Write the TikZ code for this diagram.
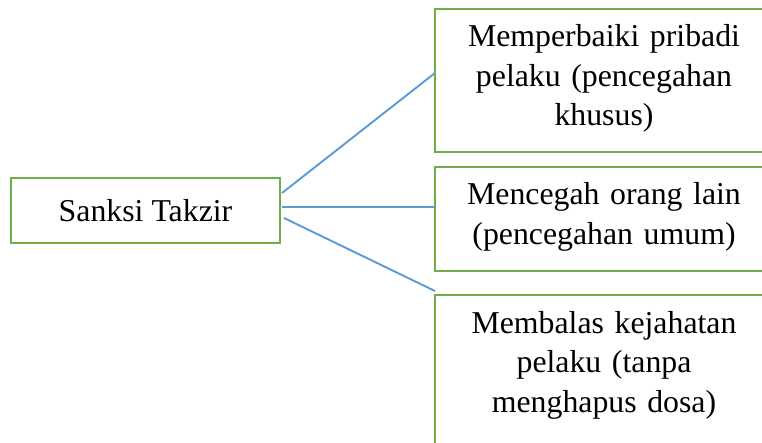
\documentclass[tikz,border=0pt]{standalone}
\usepackage{fontspec}
\setmainfont{Liberation Serif}
\definecolor{boxgreen}{HTML}{70AD47}
\definecolor{lineblue}{HTML}{5B9BD5}
\begin{document}
\begin{tikzpicture}[x=1pt,y=-1pt,
  box/.style={draw=boxgreen, line width=2.4pt, rectangle, inner sep=0pt},
  txt/.style={font=\fontsize{31.8}{39.5}\selectfont, align=center, text width=320pt, inner sep=0pt, anchor=base},
  conn/.style={draw=lineblue, line width=1.9pt}]
\path[use as bounding box, clip] (0,0) rectangle (762,443);
\fill[white] (0,0) rectangle (762,443);
% source box
\node[box, minimum width=269pt, minimum height=65pt, font=\fontsize{31.8}{39.5}\selectfont] (src) at (145.5,210.5) {Sanksi Takzir};
% target boxes
\node[box, minimum width=338pt, minimum height=143pt] (b1) at (604,80.5) {};
\node[box, minimum width=338pt, minimum height=104pt] (b2) at (604,219) {};
\node[box, minimum width=338pt, minimum height=160pt] (b3) at (604,375) {};
% texts
\node[txt] (t1) at (604,47) {Memperbaiki pribadi\\pelaku (pencegahan\\khusus)};
\node[txt] (t2) at (604,205) {Mencegah orang lain\\(pencegahan umum)};
\node[txt] (t3) at (604,333) {Membalas kejahatan\\pelaku (tanpa\\menghapus dosa)};
% connector ends
\coordinate (s1) at (282,193);
\coordinate (s2) at (282,207);
\coordinate (s3) at (284,218);
\coordinate (e1) at (435,73);
\coordinate (e2) at (435,207);
\coordinate (e3) at (435,291);
\draw[conn] (s1) -- (e1);
\draw[conn] (s2) -- (e2);
\draw[conn] (s3) -- (e3);
\end{tikzpicture}
\end{document}
